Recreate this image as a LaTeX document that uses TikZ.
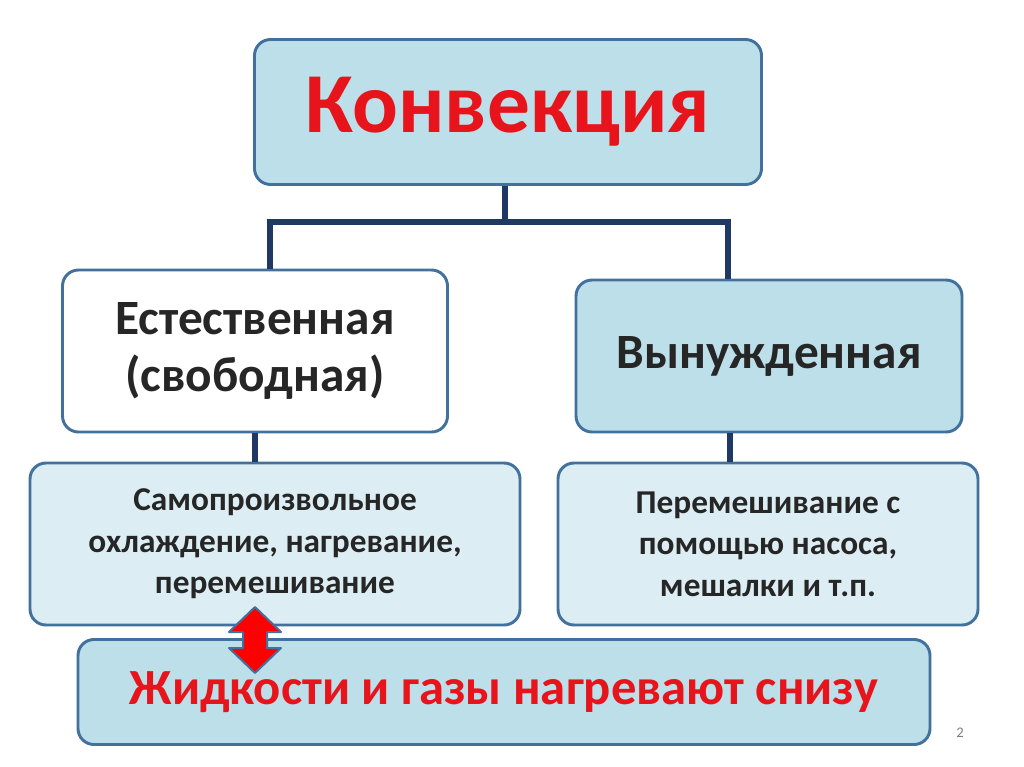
\documentclass[tikz,border=0pt]{standalone}
\usepackage{fontspec}
\setmainfont{Carlito}
\usetikzlibrary{positioning}
\definecolor{boxline}{HTML}{41719C}
\definecolor{boxfill}{HTML}{BCDFEA}
\definecolor{palefill}{HTML}{DCEEF4}
\definecolor{navy}{HTML}{1F3864}
\definecolor{textred}{HTML}{E8141B}
\definecolor{textdark}{HTML}{262626}
\tikzset{
  block/.style={draw=boxline, line width=2.2pt, rounded corners=12pt, fill=boxfill, align=center, font=\bfseries},
  link/.style={navy, line width=4pt}
}
\begin{document}
\begin{tikzpicture}[x=0.75pt, y=-0.75pt]
	\useasboundingbox (0,0) rectangle (1024,767);
	\fill[white] (0,0) rectangle (1024,767);

	\node (convection)[block, minimum width=507*0.75pt, minimum height=145*0.75pt, text=textred, font=\bfseries\fontsize{64}{64}\selectfont] at (508,112) {Конвекция};

	\node (natural)[block, fill=white, minimum width=385*0.75pt, minimum height=162*0.75pt, text=textdark, font=\bfseries\fontsize{37}{43}\selectfont] at (255,351) {Естественная\\(свободная)};
	\node (forced)[block, minimum width=386*0.75pt, minimum height=152*0.75pt, text=textdark, font=\bfseries\fontsize{37}{43}\selectfont] at (769,356) {Вынужденная};

	\node (naturalText)[block, fill=palefill, minimum width=490*0.75pt, minimum height=162*0.75pt, text=textdark, font=\bfseries\fontsize{25}{31}\selectfont] at (275,544) {Самопроизвольное\\охлаждение, нагревание,\\перемешивание};
	\node (forcedText)[block, fill=palefill, minimum width=420*0.75pt, minimum height=162*0.75pt, text=textdark, font=\bfseries\fontsize{25}{31}\selectfont] at (768,544) {Перемешивание с\\помощью насоса,\\мешалки и т.п.};

	\node (heating)[block, minimum width=852*0.75pt, minimum height=105*0.75pt, text=textred, font=\bfseries\fontsize{38}{38}\selectfont] at (504,692) {Жидкости и газы нагревают снизу};

	\coordinate (split) at (505,222);
	\draw [link] (convection.south -| split) -- (split);
	\draw [link] (split) -| (natural.north -| 270,0);
	\draw [link] (split) -| (forced.north -| 728,0);
	\draw [link] (natural.south) -- (natural.south |- naturalText.north);
	\draw [link] (forced.south -| 730,0) -- (forcedText.north -| 730,0);

	% double arrow between the two lower boxes
	\draw [draw=boxline, line width=1.5pt, fill=red, line join=round]
		(255,607) -- (281,632) -- (267,632) -- (267,648) -- (281,648) -- (255,673)
		-- (229,648) -- (243,648) -- (243,632) -- (229,632) -- cycle;

	\node (pageNo)[text=gray, font=\fontsize{11}{11}\selectfont] at (960,733) {2};
\end{tikzpicture}
\end{document}
